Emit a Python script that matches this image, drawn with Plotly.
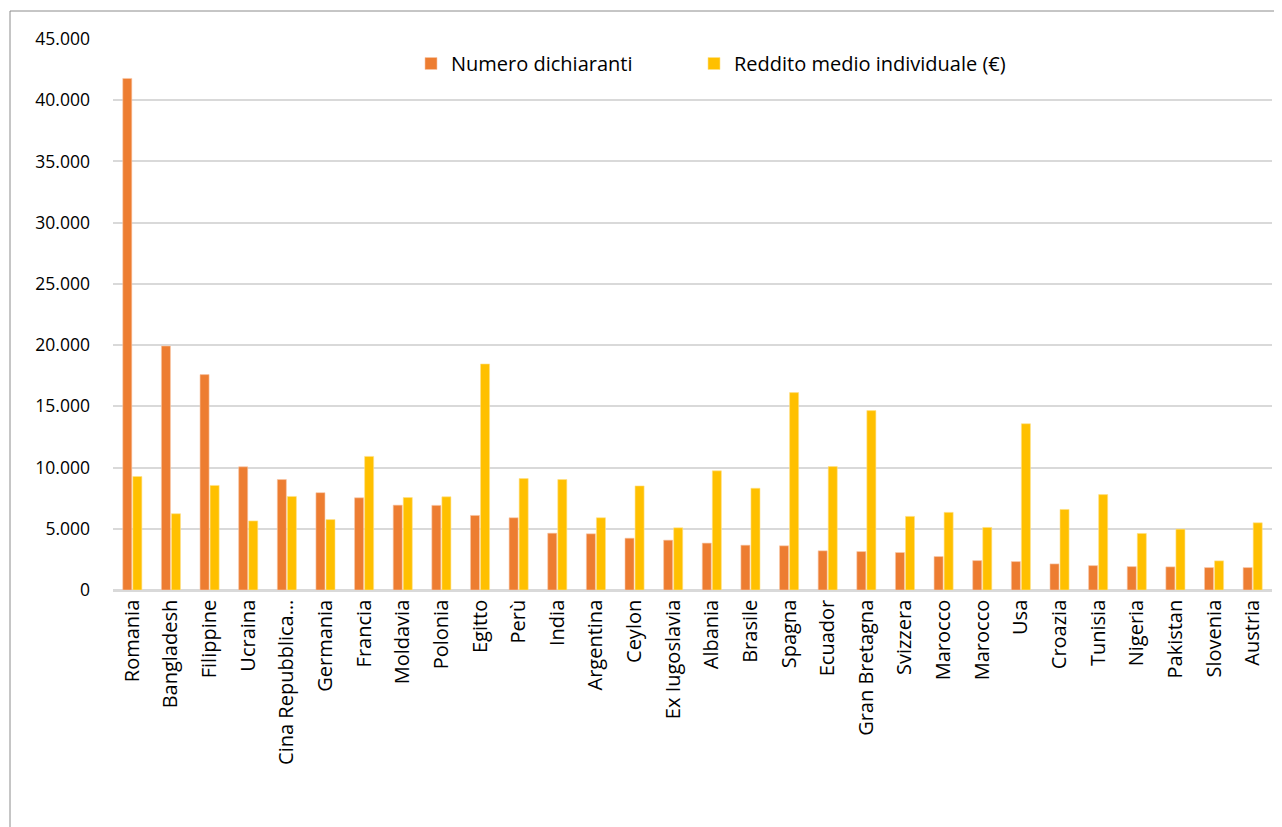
import plotly.graph_objects as go

countries = ["Romania", "Bangladesh", "Filippine", "Ucraina", "Cina Repubblica…", "Germania",
             "Francia", "Moldavia", "Polonia", "Egitto", "Perù", "India", "Argentina", "Ceylon",
             "Ex Iugoslavia", "Albania", "Brasile", "Spagna", "Ecuador", "Gran Bretagna",
             "Svizzera", "Marocco", "Marocco ", "Usa", "Croazia", "Tunisia", "Nigeria",
             "Pakistan", "Slovenia", "Austria"]
tick_labels = ["Romania", "Bangladesh", "Filippine", "Ucraina", "Cina Repubblica…", "Germania",
               "Francia", "Moldavia", "Polonia", "Egitto", "Perù", "India", "Argentina", "Ceylon",
               "Ex Iugoslavia", "Albania", "Brasile", "Spagna", "Ecuador", "Gran Bretagna",
               "Svizzera", "Marocco", "Marocco", "Usa", "Croazia", "Tunisia", "Nigeria",
               "Pakistan", "Slovenia", "Austria"]
numero_dichiaranti = [41780, 19930, 17590, 10060, 9020, 7950, 7530, 6930, 6910, 6090,
                      5900, 4640, 4590, 4230, 4070, 3830, 3660, 3610, 3200, 3140,
                      3060, 2730, 2400, 2320, 2130, 1990, 1910, 1890, 1830, 1830]
reddito_medio = [9270, 6230, 8540, 5640, 7640, 5750, 10910, 7550, 7610, 18460,
                 9100, 9020, 5900, 8500, 5080, 9730, 8310, 16120, 10080, 14650,
                 6010, 6340, 5110, 13580, 6580, 7790, 4620, 4970, 2380, 5490]
y_ticks = [0, 5000, 10000, 15000, 20000, 25000, 30000, 35000, 40000, 45000]

ORANGE = "#ED7D31"
YELLOW = "#FFC000"

fig = go.Figure()
fig.add_trace(go.Bar(x=countries, y=numero_dichiaranti, name="Numero dichiaranti",
                     legend="legend",
                     marker=dict(color=ORANGE, line=dict(color="#F8C8A8", width=0.6))))
fig.add_trace(go.Bar(x=countries, y=reddito_medio, name="Reddito medio individuale (€)",
                     legend="legend2",
                     marker=dict(color=YELLOW, line=dict(color="#FFE08A", width=0.6))))

# page has an 8px body margin; figure coordinates = reference pixels - 8
OFF = 8
W, H = 1282 - OFF, 827 - OFF
L, T = 113 - OFF, 39 - OFF
R = W - (1272 - OFF)
B = H - (590 - OFF)
pw, ph = W - L - R, H - T - B

def px_x(x_ref):
    return (x_ref - OFF - L) / pw

def px_y(y_ref):
    return (590 - y_ref) / ph

legend_style = dict(orientation="h", xanchor="left", yanchor="top",
                    font=dict(size=20, color="#000000"), bgcolor="rgba(0,0,0,0)",
                    itemwidth=30)

fig.update_layout(
    width=W, height=H,
    margin=dict(l=L, r=R, t=T, b=B),
    paper_bgcolor="white", plot_bgcolor="white",
    barmode="group", bargap=0.48, bargroupgap=0.1,
    separators=",.",
    font=dict(family="'Open Sans', Lato, sans-serif", size=17, color="#000000"),
    showlegend=True,
    legend=dict(x=px_x(411), y=px_y(44), **legend_style),
    legend2=dict(x=px_x(694), y=px_y(44), **legend_style),
    xaxis=dict(tickmode="array", tickvals=countries, ticktext=tick_labels,
               tickangle=-90, showgrid=False, showline=True, linecolor="#D9D9D9", linewidth=1.5,
               ticks="", tickfont=dict(family="'Open Sans'", size=20, color="#000000"),
               fixedrange=True),
    yaxis=dict(range=[0, 45000], tickvals=y_ticks, tickformat=",.0f",
               showgrid=True, gridcolor="#D9D9D9", gridwidth=1.5,
               zeroline=True, zerolinecolor="#D9D9D9", zerolinewidth=1.5,
               showline=False, ticks="", ticklabelstandoff=22,
               tickfont=dict(family="'Open Sans'", size=17.5, color="#000000")),
    shapes=[dict(type="rect", xref="paper", yref="paper",
                 x0=px_x(10), x1=px_x(1278),
                 y0=px_y(840), y1=px_y(11),
                 line=dict(color="#8C8C8C", width=1), fillcolor="rgba(0,0,0,0)", layer="below")],
)

fig.write_html("out.html")
